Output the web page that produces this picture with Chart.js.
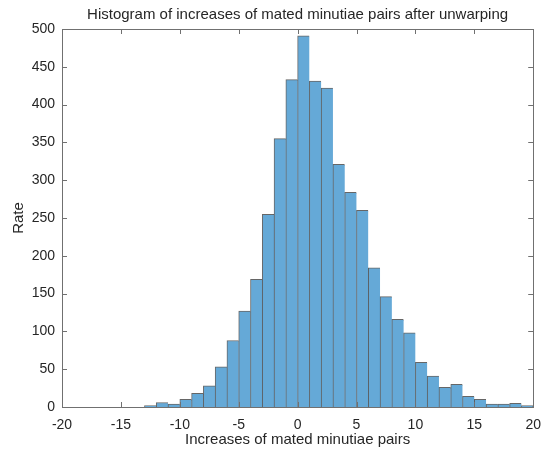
<!DOCTYPE html>
<html>
<head>
  <script src="https://cdn.jsdelivr.net/npm/chart.js"></script>
  <style>
    body { margin:0; background:#fff; }
  </style>
</head>
<body>
<canvas id="myChart" width="551" height="449"></canvas>
<script>
  // histogram bins, width 1, left edges from -20 to 19
  var binStarts = [-20,-19,-18,-17,-16,-15,-14,-13,-12,-11,-10,-9,-8,-7,-6,-5,-4,-3,-2,-1,
                   0,1,2,3,4,5,6,7,8,9,10,11,12,13,14,15,16,17,18,19];
  var counts = [0,0,0,0,0,0,0,2,6,4,10,18,28,53,88,127,169,255,355,433,
                491,431,422,321,284,260,184,146,116,98,59,41,26,30,14,10,4,4,5,2];
  var xTicks = [-20,-15,-10,-5,0,5,10,15,20];
  var yTicks = [0,50,100,150,200,250,300,350,400,450,500];

  var titleText = "Histogram of increases of mated minutiae pairs after unwarping";
  var xTitle = "Increases of mated minutiae pairs";
  var yTitle = "Rate";

  var textColor = '#262626';
  var axisColor = '#707070';
  var fontFamily = '"Liberation Sans", Arial, Helvetica, sans-serif';

  var points = [];
  for (var i=0;i<binStarts.length;i++)
    points.push({x: binStarts[i]+0.5, y: counts[i]});

  // box around the axes + inward ticks on all four sides, MATLAB style
  var boxPlugin = {
    id: 'box',
    afterDraw: function(chart) {
      var ctx = chart.ctx, a = chart.chartArea;
      var xs = chart.scales.x, ys = chart.scales.y;
      var tl = 5;
      ctx.save();
      ctx.strokeStyle = axisColor;
      ctx.lineWidth = 1;
      ctx.beginPath();
      for (var i=0;i<xTicks.length;i++) {
        var px = Math.round(xs.getPixelForValue(xTicks[i])) + 0.5;
        ctx.moveTo(px, a.bottom); ctx.lineTo(px, a.bottom - tl);
        ctx.moveTo(px, a.top); ctx.lineTo(px, a.top + tl);
      }
      for (var j=0;j<yTicks.length;j++) {
        var py = Math.round(ys.getPixelForValue(yTicks[j])) + 0.5;
        ctx.moveTo(a.left, py); ctx.lineTo(a.left + tl, py);
        ctx.moveTo(a.right, py); ctx.lineTo(a.right - tl, py);
      }
      ctx.stroke();
      ctx.strokeRect(Math.round(a.left)+0.5, Math.round(a.top)+0.5,
                     Math.round(a.right-a.left), Math.round(a.bottom-a.top));
      // title
      ctx.fillStyle = textColor;
      ctx.font = '15px ' + fontFamily;
      ctx.textAlign = 'center';
      ctx.textBaseline = 'middle';
      ctx.fillText(titleText, (a.left+a.right)/2, 15);
      ctx.restore();
    }
  };

  var lastIndex = counts.length-1;
  new Chart(document.getElementById('myChart'), {
    type: 'bar',
    data: {
      datasets: [{
        data: points,
        backgroundColor: '#65a9d7',
        borderColor: 'rgba(0,0,0,0.6)',
        borderWidth: function(c) {
          return {top:1, left:1, bottom:0, right: c.dataIndex == lastIndex ? 1 : 0};
        },
        borderSkipped: false,
        barPercentage: 1,
        categoryPercentage: 1
      }]
    },
    options: {
      responsive: false,
      animation: false,
      layout: { padding: {top:29, right:9, bottom:0, left:0} },
      plugins: { legend: {display:false}, tooltip: {enabled:false} },
      scales: {
        x: {
          type: 'linear',
          min: -20, max: 20,
          offset: false,
          afterBuildTicks: function(s) { s.ticks = xTicks.map(function(v){return {value:v};}); },
          afterFit: function(s) { s.height = 42; },
          grid: { display:false, drawTicks:false },
          border: { display:false },
          ticks: { color:textColor, font:{family:fontFamily, size:14}, padding:10, maxRotation:0 },
          title: { display:true, text:xTitle, color:textColor, font:{family:fontFamily, size:15}, padding:{top:-3, bottom:0} }
        },
        y: {
          min: 0, max: 500,
          afterBuildTicks: function(s) { s.ticks = yTicks.map(function(v){return {value:v};}); },
          afterFit: function(s) { s.width = 62; },
          grid: { display:false, drawTicks:false },
          border: { display:false },
          ticks: { color:textColor, font:{family:fontFamily, size:14}, padding:7 },
          title: { display:true, text:yTitle, color:textColor, font:{family:fontFamily, size:15}, padding:{top:10, bottom:0} }
        }
      }
    },
    plugins: [boxPlugin]
  });
</script>
</body>
</html>
